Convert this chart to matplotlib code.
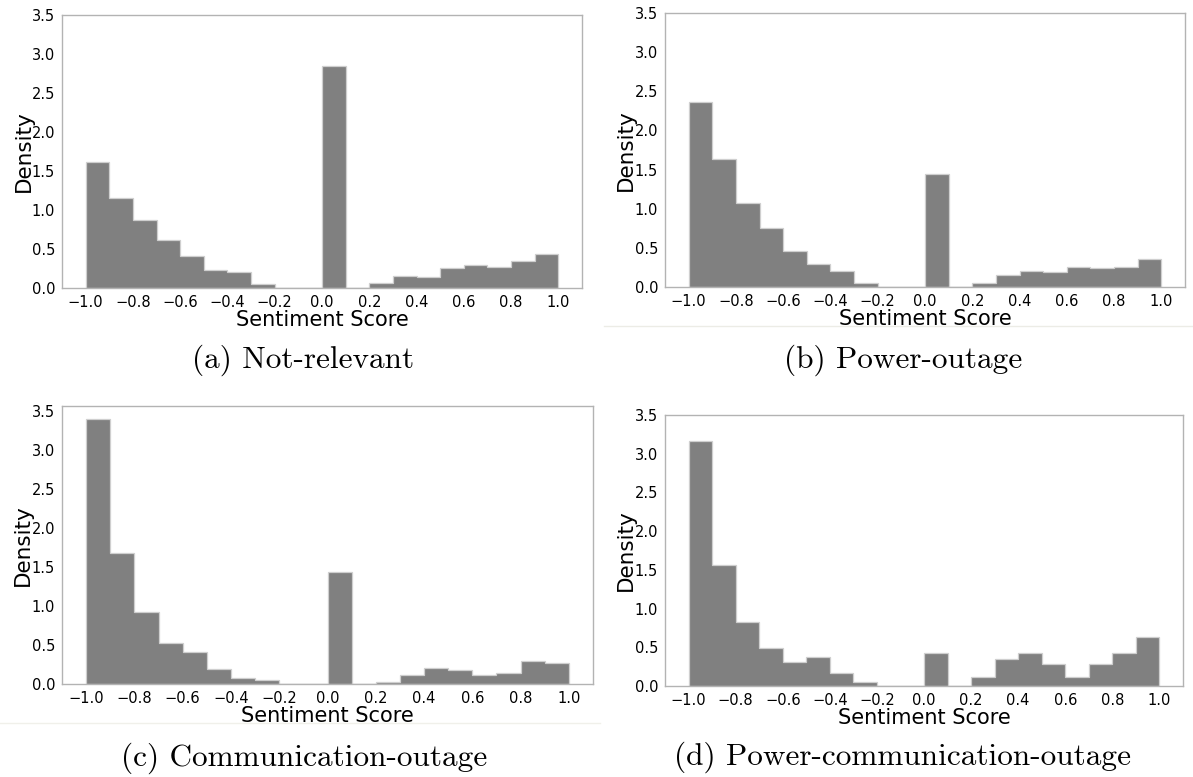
import numpy as np
import matplotlib
matplotlib.use("Agg")
import matplotlib.pyplot as plt
from matplotlib.lines import Line2D

bin_edges = [round(-1.0 + 0.1 * i, 1) for i in range(21)]

not_relevant = [1.61, 1.15, 0.87, 0.62, 0.41, 0.23, 0.20, 0.05, 0.0, 0.0,
                2.85, 0.0, 0.06, 0.15, 0.14, 0.25, 0.30, 0.27, 0.34, 0.43]
power_outage = [2.36, 1.64, 1.07, 0.76, 0.46, 0.29, 0.20, 0.05, 0.0, 0.0,
                1.44, 0.0, 0.05, 0.15, 0.20, 0.19, 0.26, 0.24, 0.26, 0.36]
comm_outage = [3.39, 1.68, 0.92, 0.52, 0.41, 0.19, 0.08, 0.05, 0.0, 0.0,
               1.44, 0.0, 0.02, 0.12, 0.20, 0.18, 0.12, 0.14, 0.29, 0.27]
power_comm_outage = [3.17, 1.56, 0.83, 0.49, 0.31, 0.37, 0.17, 0.05, 0.0, 0.0,
                     0.43, 0.0, 0.11, 0.35, 0.43, 0.29, 0.11, 0.29, 0.43, 0.63]

captions = ["(a) Not-relevant", "(b) Power-outage",
            "(c) Communication-outage", "(d) Power-communication-outage"]
series = [not_relevant, power_outage, comm_outage, power_comm_outage]

W, H = 1193, 777
fig = plt.figure(figsize=(W / 100, H / 100), dpi=100)

# axes boxes in pixels: left, right, top, bottom
boxes = [(62, 582, 15, 288), (665, 1185, 13, 287),
         (62, 593, 406, 684), (665, 1183, 415, 686)]
fixed_top = [3.5, 3.5, None, 3.5]
caption_pos = [(303, 360), (903, 360), (304, 758), (903, 757)]
ylabel_x = [34, 636, 33, 636]

for i, (vals, cap) in enumerate(zip(series, captions)):
    l, r, t, b = boxes[i]
    ax = fig.add_axes([l / W, 1 - b / H, (r - l) / W, (b - t) / H])
    ax.hist(bin_edges[:-1], bins=bin_edges, weights=vals, histtype="stepfilled",
            facecolor="#808080", edgecolor="#cfcfcf", linewidth=0.9)
    if fixed_top[i] is not None:
        ax.set_ylim(0, fixed_top[i])
    ax.set_xticks(np.round(np.arange(-1.0, 1.01, 0.2), 1))
    ax.set_yticks(np.arange(0, 3.51, 0.5))
    ax.tick_params(length=0, labelsize=10.5, pad=5)
    for s in ax.spines.values():
        s.set_color("#b3b3b3")
        s.set_linewidth(1.0)
    ax.set_xlabel("Sentiment Score", fontsize=15, labelpad=0)
    ax.set_ylabel("Density", fontsize=15.5)
    ax.yaxis.set_label_coords((ylabel_x[i] - l) / (r - l), 0.5)
    cx, cy = caption_pos[i]
    fig.text(cx / W, 1 - cy / H, cap, family="cmr10", fontsize=22.5,
             ha="center", va="center")

# faint separator lines from the source page
fig.add_artist(Line2D([604 / W, 1.0], [1 - 326 / H] * 2, color="#ecece6", lw=1))
fig.add_artist(Line2D([0.0, 600 / W], [1 - 723 / H] * 2, color="#f0f0ea", lw=1))

fig.savefig("out.png", dpi=100)
